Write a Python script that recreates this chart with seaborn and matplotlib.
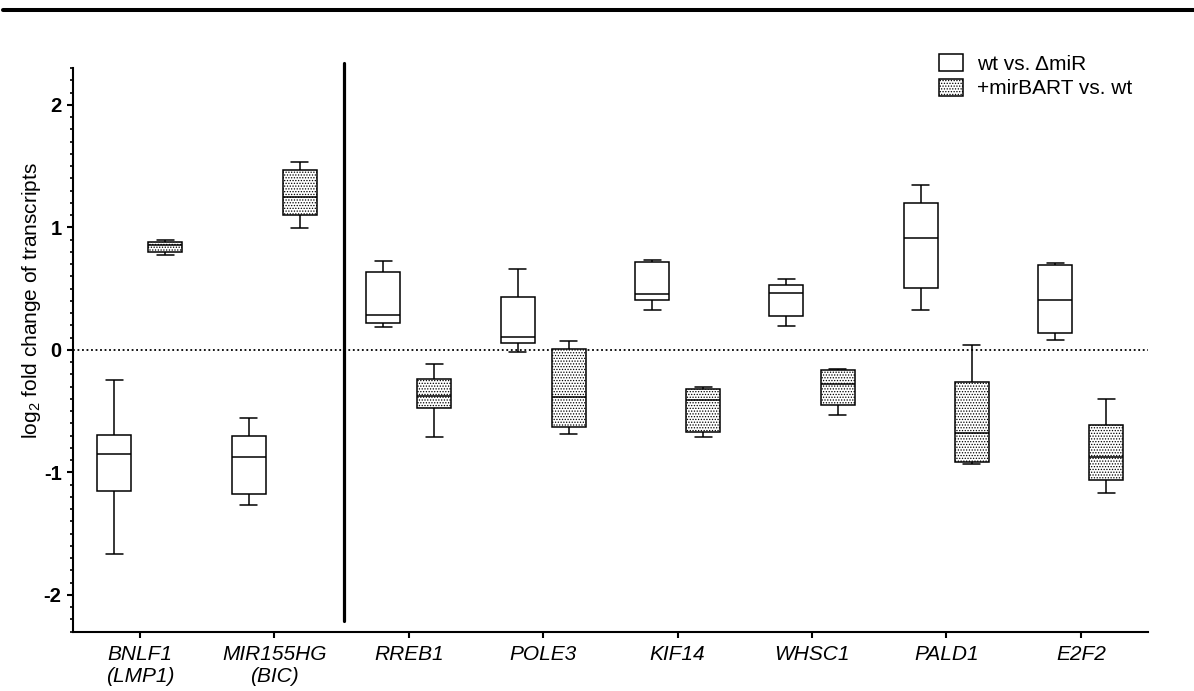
import numpy as np
import pandas as pd
import matplotlib
matplotlib.use("Agg")
import matplotlib.pyplot as plt
from matplotlib.patches import Patch
from matplotlib.lines import Line2D
from matplotlib.ticker import MultipleLocator
import seaborn as sns

# Genes on the x axis and their tick labels
genes = ["BNLF1", "MIR155HG", "RREB1", "POLE3", "KIF14", "WHSC1", "PALD1", "E2F2"]
gene_labels = ["BNLF1\n(LMP1)", "MIR155HG\n(BIC)", "RREB1", "POLE3",
               "KIF14", "WHSC1", "PALD1", "E2F2"]
comparisons = ["wt vs. \u0394miR", "+mirBART vs. wt"]

# five-number summaries: min, q1, median, q3, max (log2 FC)
wt_vs_dmir = [
    [-1.667, -1.153, -0.851, -0.693, -0.248],
    [-1.270, -1.180, -0.873, -0.705, -0.560],
    [0.190, 0.223, 0.282, 0.639, 0.723],
    [-0.014, 0.054, 0.103, 0.429, 0.660],
    [0.323, 0.410, 0.454, 0.715, 0.736],
    [0.196, 0.277, 0.467, 0.527, 0.576],
    [0.326, 0.506, 0.916, 1.199, 1.348],
    [0.082, 0.139, 0.410, 0.690, 0.712],
]
mirbart_vs_wt = [
    [0.770, 0.800, 0.855, 0.881, 0.894],
    [0.992, 1.101, 1.248, 1.471, 1.536],
    [-0.713, -0.471, -0.373, -0.237, -0.117],
    [-0.685, -0.626, -0.386, 0.008, 0.076],
    [-0.710, -0.672, -0.413, -0.321, -0.305],
    [-0.528, -0.449, -0.275, -0.163, -0.158],
    [-0.933, -0.919, -0.680, -0.264, 0.043],
    [-1.172, -1.060, -0.876, -0.617, -0.403],
]

rows = []
for comp, series in zip(comparisons, [wt_vs_dmir, mirbart_vs_wt]):
    for g, vals in zip(genes, series):
        for v in vals:
            rows.append({"gene": g, "comparison": comp, "value": v})
df = pd.DataFrame(rows)

sns.set_style("ticks")
plt.rcParams["font.family"] = ["Liberation Sans", "DejaVu Sans"]
plt.rcParams["mathtext.fontset"] = "custom"
plt.rcParams["mathtext.rm"] = "Liberation Sans"
plt.rcParams["hatch.linewidth"] = 0.6
plt.rcParams["hatch.color"] = "#555555"
for key in ["text.color", "axes.labelcolor", "xtick.color", "ytick.color", "axes.edgecolor"]:
    plt.rcParams[key] = "black"

fig = plt.figure(figsize=(11.94, 6.91), dpi=100)
ax = fig.add_axes([0.0609, 0.0858, 0.9006, 0.8158])

sns.boxplot(data=df, x="gene", y="value", hue="comparison", order=genes,
            hue_order=comparisons, whis=(0, 100), width=0.76, gap=0.334,
            palette=["white", "white"], linecolor="black", linewidth=1.1,
            legend=False, ax=ax)

# stipple the +mirBART boxes (those right of the category centre)
for p in ax.patches:
    verts = p.get_path().vertices
    xc = (verts[:, 0].min() + verts[:, 0].max()) / 2
    if xc - round(xc) > 0:
        p.set_hatch("......")

ax.set_xlim(-0.5, 7.5)
ax.set_ylim(-2.3, 2.3)
ax.axhline(0, color="black", lw=1.3, ls=(0, (1, 1.5)), zorder=0)
ax.axvline(1.52, ymin=(-2.21 + 2.3) / 4.6, ymax=(2.34 + 2.3) / 4.6,
           color="black", lw=2.3, clip_on=False)

ax.set_yticks([-2, -1, 0, 1, 2])
ax.set_yticklabels(["-2", "-1", "0", "1", "2"], fontsize=14.5, fontweight="bold")
ax.yaxis.set_minor_locator(MultipleLocator(0.1))
ax.set_xticks(range(len(genes)))
ax.set_xticklabels(gene_labels, fontsize=15, fontstyle="italic")
ax.tick_params(axis="both", which="major", length=4.5, width=1.5, color="black")
ax.tick_params(axis="x", pad=5)
ax.tick_params(axis="y", which="minor", length=2.5, width=1.2, color="black")
ax.set_xlabel("")
ax.set_ylabel(r"log$_\mathregular{2}$ fold change of transcripts", fontsize=15)
ax.yaxis.set_label_coords(-0.028, 0.588)

sns.despine(ax=ax)
for s in ["left", "bottom"]:
    ax.spines[s].set_linewidth(1.5)
    ax.spines[s].set_color("black")

handles = [Patch(facecolor="white", edgecolor="black", lw=1.1),
           Patch(facecolor="white", edgecolor="black", lw=1.1, hatch="......")]
ax.legend(handles, comparisons, loc="upper left", fontsize=15,
          bbox_to_anchor=(939 / 1194, 1 - 54 / 691), bbox_transform=fig.transFigure,
          frameon=False, borderpad=0, borderaxespad=0, handlelength=1.15,
          handleheight=0.86, handletextpad=0.67, labelspacing=0.25)

# page rule at the top
fig.add_artist(Line2D([3 / 1194, 1.0], [1 - 9.5 / 691, 1 - 9.5 / 691],
                      color="black", lw=2.9))

fig.savefig("out.png", dpi=100)
